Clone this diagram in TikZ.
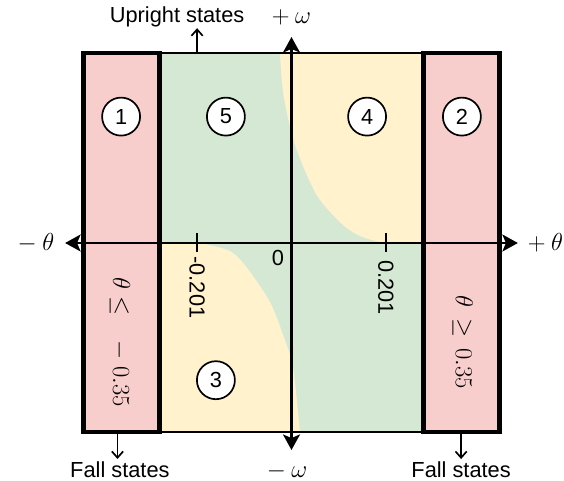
\RequirePackage{fix-cm}
\documentclass[tikz,border=0pt]{standalone}
\usepackage{amsmath}
\usepackage{amssymb}
\usepackage[no-math]{fontspec}
\setsansfont{Liberation Sans}
\usetikzlibrary{
    arrows.meta
}
\definecolor{fallred}{HTML}{F8CECC}
\definecolor{safegreen}{HTML}{D5E8D4}
\definecolor{warnyellow}{HTML}{FFF2CC}
\tikzset{
    >=Stealth,
    fallbox/.style={
        draw=black,
        fill=fallred,
        line width=3.2pt
    },
    axis/.style={
        line width=1.8pt,
        {Stealth[length=11pt,width=12pt,inset=2.5pt]}-{Stealth[length=11pt,width=12pt,inset=2.5pt]}
    },
    axtick/.style={
        line width=1.5pt
    },
    pointer/.style={
        line width=1.2pt,
        -{Straight Barb[length=4.5pt,width=8pt]}
    },
    zone/.style={
        circle,
        draw,
        fill=white,
        line width=1.2pt,
        minimum size=0.95cm,
        inner sep=0pt,
        font=\sffamily\fontsize{15.5}{18}\selectfont
    },
    txt/.style={
        inner sep=1pt,
        font=\sffamily\fontsize{15.5}{18}\selectfont
    },
    mathlbl/.style={
        inner sep=1pt,
        font=\fontsize{17.5}{20}\selectfont
    }
}

\begin{document}
\begin{tikzpicture}[
    >=Stealth
]

    \useasboundingbox (-7.2875,-5.95) rectangle (6.8125,6.075);

    % Regiones
    \fill[safegreen] (-3.3,-4.72) rectangle (3.3,4.75);
    \fill[warnyellow] (3.3,4.75)
        -- plot[smooth] coordinates {(-0.29,4.75) (-0.2,3.7) (0.09,2.45)
            (0.63,1.2) (1.29,0.45) (1.75,0.16) (2.3,0)}
        -- (3.3,0) -- cycle;
    \fill[warnyellow] (-3.3,0)
        -- plot[smooth] coordinates {(-2.29,0) (-1.54,-0.2) (-1.11,-0.625)
            (-0.54,-1.475) (-0.21,-2.3) (0.04,-3.125) (0.21,-4.72)}
        -- (-3.3,-4.72) -- cycle;
    \draw[line width=1.2pt] (-3.3,-4.72) rectangle (3.3,4.75);

    % Estados de caida
    \draw[fallbox] (-5.2,-4.72) rectangle (-3.3,4.75);
    \draw[fallbox] (3.3,-4.72) rectangle (5.2,4.75);

    % Ejes
    \coordinate (thneg) at (-5.66,0);
    \coordinate (thpos) at (5.66,0);
    \coordinate (omneg) at (0,-5.175);
    \coordinate (ompos) at (0,5.15);
    \draw[axis] (thneg) -- (thpos);
    \draw[axis] (omneg) -- (ompos);

    \node[mathlbl] (lthneg) at (-6.39,0)     {$-\:\theta$};
    \node[mathlbl] (lthpos) at (6.35,0)      {$+\:\theta$};
    \node[mathlbl] (lompos) at (0,5.65)      {$+\:\omega$};
    \node[mathlbl] (lomneg) at (-0.11,-5.72) {$-\:\omega$};

    % Marcas
    \coordinate (tkneg) at (-2.36,0);
    \coordinate (tkpos) at (2.36,0);
    \draw[axtick] ([yshift=0.25cm]tkneg) -- ([yshift=-0.225cm]tkneg);
    \draw[axtick] ([yshift=0.25cm]tkpos) -- ([yshift=-0.225cm]tkpos);

    \node[txt, rotate=-90] (ltkneg) at (-2.36,-1.11) {-0.201};
    \node[txt, rotate=-90] (ltkpos) at (2.36,-1.11)  {0.201};
    \node[txt]             (lzero)  at (-0.34,-0.37) {0};

    % Zonas
    \node[zone] (z1) at (-4.26,3.16)  {1};
    \node[zone] (z5) at (-1.64,3.16)  {5};
    \node[zone] (z4) at (1.89,3.16)   {4};
    \node[zone] (z2) at (4.26,3.16)   {2};
    \node[zone] (z3) at (-1.89,-3.43) {3};

    % Condiciones
    \node[mathlbl, rotate=-90] (condneg) at (-4.29,-2.48)
        {$\theta \leq \hspace{13pt} - \; 0.35$};
    \node[mathlbl, rotate=-90] (condpos) at (4.28,-2.48)
        {$\theta \,\geq\, 0.35$};

    % Flechas de estados
    \node[txt] (upright) at (-2.86,5.65)  {Upright states};
    \node[txt] (fallneg) at (-4.29,-5.675) {Fall states};
    \node[txt] (fallpos) at (4.24,-5.675)  {Fall states};

    \coordinate (upfoot)  at (-2.36,4.75);
    \coordinate (uptip)   at (-2.36,5.37);
    \coordinate (fnfoot)  at (-4.35,-4.72);
    \coordinate (fntip)   at (-4.35,-5.4);
    \coordinate (fpfoot)  at (4.24,-4.72);
    \coordinate (fptip)   at (4.24,-5.4);

    \draw[pointer] (upfoot) -- (uptip);
    \draw[pointer] (fnfoot) -- (fntip);
    \draw[pointer] (fpfoot) -- (fptip);

\end{tikzpicture}
\end{document}
